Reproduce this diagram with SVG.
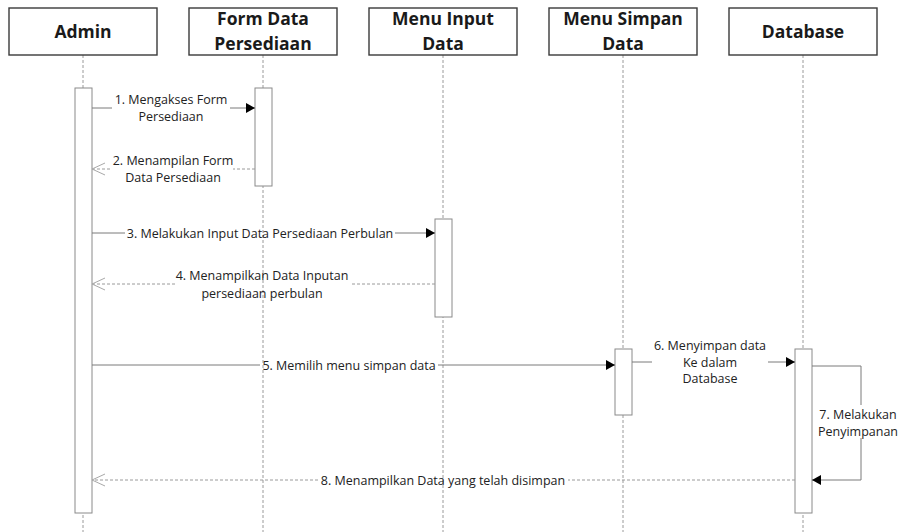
<svg xmlns="http://www.w3.org/2000/svg" width="902" height="532" viewBox="0 0 902 532">
  <style>
    .head { fill: #ffffff; stroke: #3a3a3a; stroke-width: 1.4; }
    .htxt { font-family: "Open Sans", "Liberation Sans", sans-serif; font-weight: bold; font-size: 17.5px; fill: #1a1a1a; text-anchor: middle; }
    .life { stroke: #9a9a9a; stroke-width: 1; stroke-dasharray: 3 2; fill: none; }
    .act { fill: #ffffff; stroke: #8a8a8a; stroke-width: 1; }
    .msg { stroke: #7a7a7a; stroke-width: 1; fill: none; }
    .ret { stroke: #9a9a9a; stroke-width: 1; stroke-dasharray: 3 2; fill: none; }
    .lbl { font-family: "Open Sans", "Liberation Sans", sans-serif; font-size: 12.5px; fill: #222222; text-anchor: middle; }
  </style>
  <defs>
    <marker id="solid" markerWidth="10" markerHeight="10" refX="9" refY="5" orient="auto" markerUnits="userSpaceOnUse">
      <path d="M0,0 L9,5 L0,10 Z" fill="#000000"/>
    </marker>
    <marker id="open" markerWidth="14" markerHeight="14" refX="13" refY="7" orient="auto" markerUnits="userSpaceOnUse">
      <path d="M0,1 L13,7 L0,13" fill="none" stroke="#a8a8a8" stroke-width="1"/>
    </marker>
  </defs>

  <rect width="902" height="532" fill="#ffffff"/>

  <!-- lifelines -->
  <g id="lifelines">
    <line class="life" x1="83" y1="55" x2="83" y2="532"/>
    <line class="life" x1="263" y1="55" x2="263" y2="532"/>
    <line class="life" x1="443" y1="55" x2="443" y2="532"/>
    <line class="life" x1="623" y1="55" x2="623" y2="532"/>
    <line class="life" x1="803" y1="55" x2="803" y2="532"/>
  </g>

  <!-- participants -->
  <g id="admin">
    <rect class="head" x="9" y="8" width="148" height="47"/>
    <text class="htxt" x="83" y="38">Admin</text>
    <rect class="act" x="75" y="88" width="17" height="425"/>
  </g>
  <g id="form-data-persediaan">
    <rect class="head" x="189" y="8" width="148" height="47"/>
    <text class="htxt" x="263" y="25">Form Data</text>
    <text class="htxt" x="263" y="50">Persediaan</text>
    <rect class="act" x="255" y="88" width="17" height="98"/>
  </g>
  <g id="menu-input-data">
    <rect class="head" x="369" y="8" width="148" height="47"/>
    <text class="htxt" x="443" y="25">Menu Input</text>
    <text class="htxt" x="443" y="50">Data</text>
    <rect class="act" x="435" y="219" width="17" height="98"/>
  </g>
  <g id="menu-simpan-data">
    <rect class="head" x="549" y="8" width="148" height="47"/>
    <text class="htxt" x="623" y="25">Menu Simpan</text>
    <text class="htxt" x="623" y="50">Data</text>
    <rect class="act" x="615" y="349" width="17" height="66"/>
  </g>
  <g id="database">
    <rect class="head" x="729" y="8" width="148" height="47"/>
    <text class="htxt" x="803" y="38">Database</text>
    <rect class="act" x="795" y="349" width="17" height="164"/>
  </g>

  <!-- messages -->
  <g id="connectors">
    <path class="msg" d="M92,108 H112 M230,108 H255" marker-end="url(#solid)"/>
    <path class="ret" d="M255,169 H233 M110,169 H92" marker-end="url(#open)"/>
    <path class="msg" d="M92,233 H125 M395,233 H435" marker-end="url(#solid)"/>
    <path class="ret" d="M435,284 H352 M175,284 H92" marker-end="url(#open)"/>
    <path class="msg" d="M92,365 H260 M438,365 H615" marker-end="url(#solid)"/>
    <path class="msg" d="M632,362 H652 M768,362 H795" marker-end="url(#solid)"/>
    <path class="msg" d="M812,366 H861 V405 M861,438 V480 H812" marker-end="url(#solid)"/>
    <path class="ret" d="M795,480 H568 M318,480 H92" marker-end="url(#open)"/>
  </g>

  <!-- message labels -->
  <g id="labels">
    <text class="lbl" x="171" y="103.5">1. Mengakses Form</text>
    <text class="lbl" x="171" y="120.5">Persediaan</text>
    <text class="lbl" x="173" y="164.5">2. Menampilan Form</text>
    <text class="lbl" x="173" y="182">Data Persediaan</text>
    <text class="lbl" x="260" y="237.5">3. Melakukan Input Data Persediaan Perbulan</text>
    <text class="lbl" x="262" y="279.5">4. Menampilkan Data Inputan</text>
    <text class="lbl" x="262" y="297.5">persediaan perbulan</text>
    <text class="lbl" x="349" y="369.5">5. Memilih menu simpan data</text>
    <text class="lbl" x="710" y="349.5">6. Menyimpan data</text>
    <text class="lbl" x="710" y="367">Ke dalam</text>
    <text class="lbl" x="710" y="383">Database</text>
    <text class="lbl" x="858" y="418.5">7. Melakukan</text>
    <text class="lbl" x="858" y="435.5">Penyimpanan</text>
    <text class="lbl" x="443" y="484.5">8. Menampilkan Data yang telah disimpan</text>
  </g>
</svg>
